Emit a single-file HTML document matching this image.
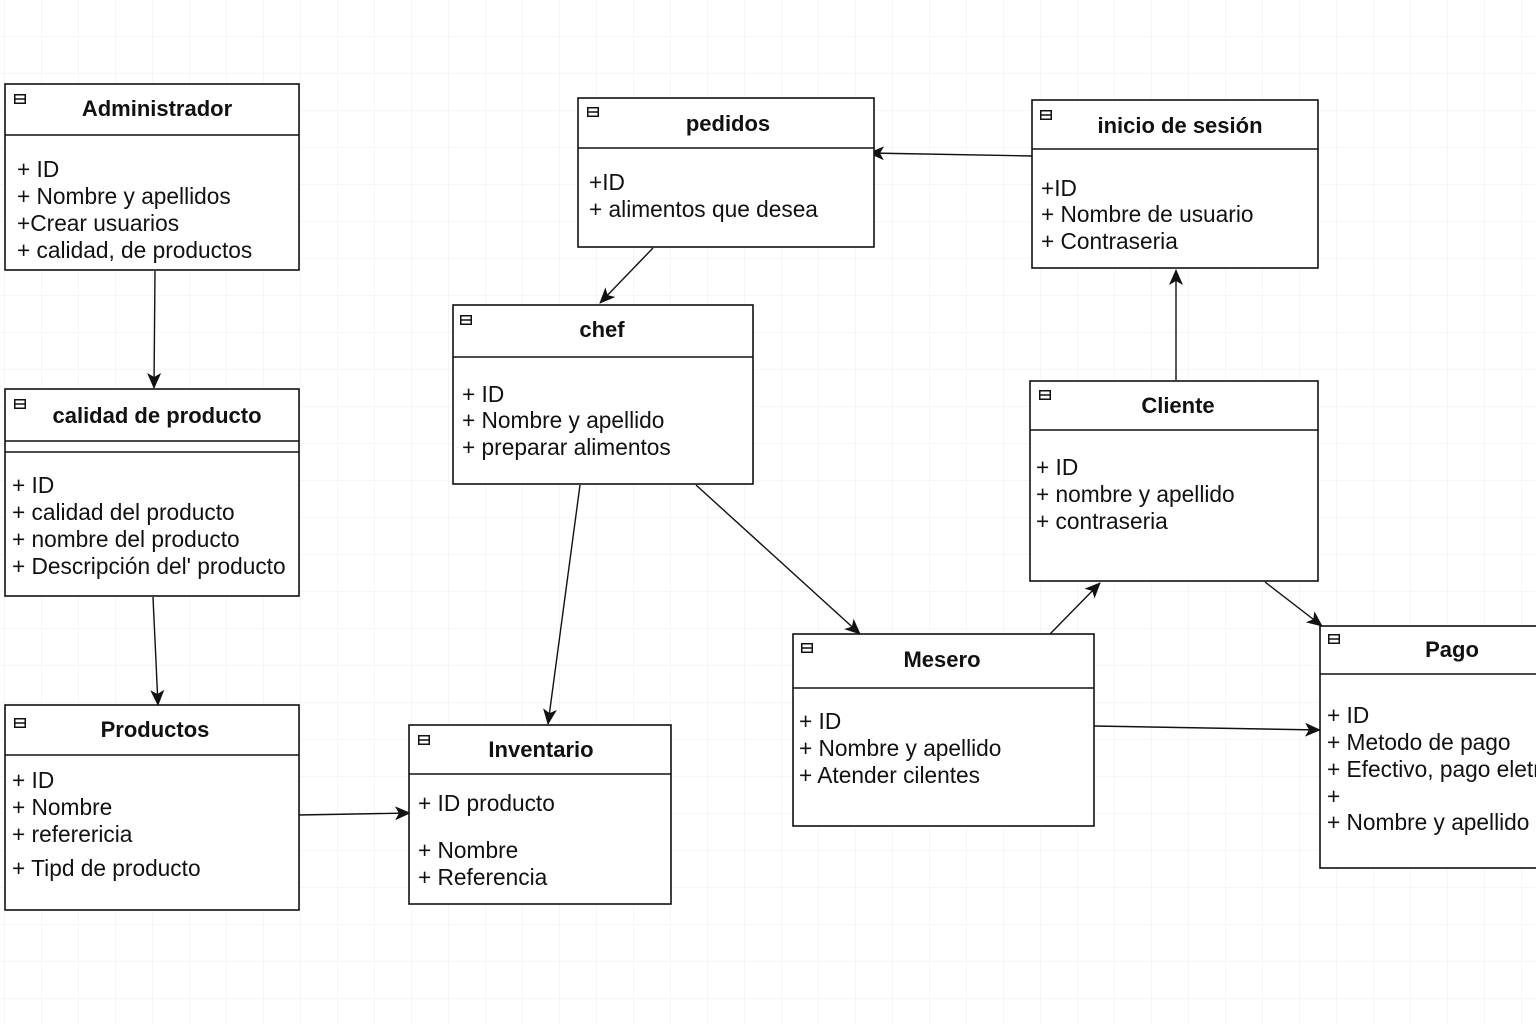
<!DOCTYPE html>
<html><head><meta charset="utf-8">
<style>
html,body{margin:0;padding:0;background:#fff;}
svg{display:block;}
text{font-family:"Liberation Sans",Arial,sans-serif;fill:#111;}
.t{font-weight:bold;font-size:22px;text-anchor:middle;}
.i{font-size:22.7px;}
.b{fill:#fff;stroke:#111;stroke-width:1.6;}
.l{stroke:#111;stroke-width:1.6;}
.c{stroke:#111;stroke-width:1.4;fill:none;}
</style></head>
<body>
<svg width="1536" height="1024" viewBox="0 0 1536 1024" xmlns="http://www.w3.org/2000/svg">
<defs>
<pattern id="g" width="37" height="37" patternUnits="userSpaceOnUse" x="5" y="0">
<path d="M37 0V37M0 37H37" stroke="#ececec" stroke-width="1" fill="none"/>
</pattern>
<marker id="a" markerWidth="16" markerHeight="14" refX="15" refY="7" orient="auto" markerUnits="userSpaceOnUse">
<path d="M0,0 L16,7 L0,14 L4,7 z" fill="#111"/>
</marker>
<symbol id="ic" viewBox="0 0 12 10"><rect x="0.75" y="0.75" width="10.5" height="8.5" fill="none" stroke="#111" stroke-width="1.5"/><line x1="0" y1="5" x2="12" y2="5" stroke="#111" stroke-width="1.5"/></symbol>
</defs>
<rect width="1536" height="1024" fill="url(#g)"/>

<g class="c" marker-end="url(#a)">
<line x1="155" y1="271" x2="154" y2="388"/>
<line x1="153" y1="597" x2="158" y2="705"/>
<line x1="299" y1="815" x2="410" y2="813"/>
<line x1="653" y1="248" x2="600" y2="303"/>
<line x1="1032" y1="156" x2="869" y2="153"/>
<line x1="580" y1="485" x2="548" y2="724"/>
<line x1="696" y1="485" x2="860" y2="634"/>
<line x1="1176" y1="380" x2="1176" y2="270"/>
<line x1="1050" y1="634" x2="1100" y2="583"/>
<line x1="1265" y1="582" x2="1322" y2="626"/>
<line x1="1094" y1="726" x2="1320" y2="730"/>
</g>

<rect class="b" x="5" y="84" width="294" height="186"/>
<line class="l" x1="5" y1="135" x2="299" y2="135"/>
<use href="#ic" x="14" y="94" width="12" height="10"/>
<text class="t" x="157" y="116">Administrador</text>
<text class="i" x="17" y="177">+ ID</text>
<text class="i" x="17" y="204">+ Nombre y apellidos</text>
<text class="i" x="17" y="231">+Crear usuarios</text>
<text class="i" x="17" y="258">+ calidad, de productos</text>

<rect class="b" x="5" y="389" width="294" height="207"/>
<line class="l" x1="5" y1="441" x2="299" y2="441"/>
<line class="l" x1="5" y1="452" x2="299" y2="452"/>
<use href="#ic" x="14" y="399" width="12" height="10"/>
<text class="t" x="157" y="423">calidad de producto</text>
<text class="i" x="12" y="493">+ ID</text>
<text class="i" x="12" y="520">+ calidad del producto</text>
<text class="i" x="12" y="547">+ nombre del producto</text>
<text class="i" x="12" y="574">+ Descripción del' producto</text>

<rect class="b" x="5" y="705" width="294" height="205"/>
<line class="l" x1="5" y1="755" x2="299" y2="755"/>
<use href="#ic" x="14" y="718" width="12" height="10"/>
<text class="t" x="155" y="737">Productos</text>
<text class="i" x="12" y="788">+ ID</text>
<text class="i" x="12" y="815">+ Nombre</text>
<text class="i" x="12" y="842">+ referericia</text>
<text class="i" x="12" y="876">+ Tipd de producto</text>

<rect class="b" x="578" y="98" width="296" height="149"/>
<line class="l" x1="578" y1="148" x2="874" y2="148"/>
<use href="#ic" x="587" y="107" width="12" height="10"/>
<text class="t" x="728" y="131">pedidos</text>
<text class="i" x="589" y="190">+ID</text>
<text class="i" x="589" y="217">+ alimentos que desea</text>

<rect class="b" x="453" y="305" width="300" height="179"/>
<line class="l" x1="453" y1="357" x2="753" y2="357"/>
<use href="#ic" x="460" y="315" width="12" height="10"/>
<text class="t" x="602" y="337">chef</text>
<text class="i" x="462" y="402">+ ID</text>
<text class="i" x="462" y="428">+ Nombre y apellido</text>
<text class="i" x="462" y="455">+ preparar alimentos</text>

<rect class="b" x="409" y="725" width="262" height="179"/>
<line class="l" x1="409" y1="774" x2="671" y2="774"/>
<use href="#ic" x="418" y="735" width="12" height="10"/>
<text class="t" x="541" y="757">Inventario</text>
<text class="i" x="418" y="811">+ ID producto</text>
<text class="i" x="418" y="858">+ Nombre</text>
<text class="i" x="418" y="885">+ Referencia</text>

<rect class="b" x="1032" y="100" width="286" height="168"/>
<line class="l" x1="1032" y1="149" x2="1318" y2="149"/>
<use href="#ic" x="1040" y="110" width="12" height="10"/>
<text class="t" x="1180" y="133">inicio de sesión</text>
<text class="i" x="1041" y="196">+ID</text>
<text class="i" x="1041" y="222">+ Nombre de usuario</text>
<text class="i" x="1041" y="249">+ Contraseria</text>

<rect class="b" x="1030" y="381" width="288" height="200"/>
<line class="l" x1="1030" y1="430" x2="1318" y2="430"/>
<use href="#ic" x="1039" y="390" width="12" height="10"/>
<text class="t" x="1178" y="413">Cliente</text>
<text class="i" x="1036" y="475">+ ID</text>
<text class="i" x="1036" y="502">+ nombre y apellido</text>
<text class="i" x="1036" y="529">+ contraseria</text>

<rect class="b" x="793" y="634" width="301" height="192"/>
<line class="l" x1="793" y1="688" x2="1094" y2="688"/>
<use href="#ic" x="801" y="643" width="12" height="10"/>
<text class="t" x="942" y="667">Mesero</text>
<text class="i" x="799" y="729">+ ID</text>
<text class="i" x="799" y="756">+ Nombre y apellido</text>
<text class="i" x="799" y="783">+ Atender cilentes</text>

<rect class="b" x="1320" y="626" width="240" height="242"/>
<line class="l" x1="1320" y1="674" x2="1560" y2="674"/>
<use href="#ic" x="1328" y="634" width="12" height="10"/>
<text class="t" x="1452" y="657">Pago</text>
<text class="i" x="1327" y="723">+ ID</text>
<text class="i" x="1327" y="750">+ Metodo de pago</text>
<text class="i" x="1327" y="777">+ Efectivo, pago eletr</text>
<text class="i" x="1327" y="804">+</text>
<text class="i" x="1327" y="830">+ Nombre y apellido</text>
</svg>
</body></html>
